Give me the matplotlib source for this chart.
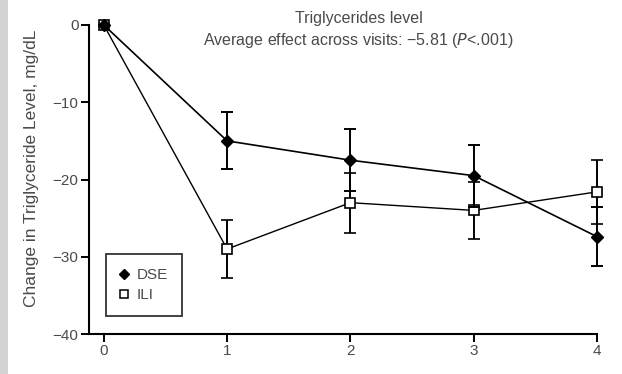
import matplotlib
matplotlib.use("Agg")
import matplotlib.pyplot as plt
from matplotlib.lines import Line2D

# Data: change in triglyceride level (mg/dL) by visit
visits = [0, 1, 2, 3, 4]
dse_mean = [0.0, -15.0, -17.5, -19.5, -27.4]
dse_err = [0.0, 3.7, 4.0, 4.0, 3.8]
ili_mean = [0.0, -29.0, -23.0, -24.0, -21.6]
ili_err = [0.0, 3.7, 3.9, 3.7, 4.1]
yticks = [0, -10, -20, -30, -40]

plt.rcParams["font.family"] = ["Liberation Sans", "DejaVu Sans"]
plt.rcParams["axes.unicode_minus"] = True

W, H = 622, 374
fig = plt.figure(figsize=(W / 100, H / 100), dpi=100)
fig.patch.set_facecolor("white")

# light gray strip on the left edge
fig.patches.append(plt.Rectangle((0, 0), 8 / W, 1, transform=fig.transFigure,
                                 facecolor="#d2d2d2", edgecolor="none"))

ax = fig.add_axes([89 / W, 1 - 334 / H, (597 - 89) / W, (334 - 25) / H])
ax.set_xlim(-0.12, 4.0)
ax.set_ylim(-40, 0)

txt = "#4a4a4a"
ax.errorbar(visits, ili_mean, yerr=ili_err, color="black", lw=1.0,
            marker="s", markersize=7, markerfacecolor="white",
            markeredgewidth=1.2, ecolor="black", elinewidth=1.4,
            capsize=4, capthick=1.4, clip_on=False, zorder=3)
ax.errorbar(visits, dse_mean, yerr=dse_err, color="black", lw=1.2,
            marker="D", markersize=6, markerfacecolor="black",
            ecolor="black", elinewidth=1.4, capsize=4, capthick=1.4,
            clip_on=False, zorder=4)

for s in ["top", "right"]:
    ax.spines[s].set_visible(False)
for s in ["left", "bottom"]:
    ax.spines[s].set_linewidth(1.5)

ax.set_xticks(visits)
ax.set_yticks(yticks)
ax.set_yticklabels([str(v).replace("-", "\u2212") for v in yticks])
ax.tick_params(axis="both", direction="out", length=6, width=1.4,
               labelsize=11, labelcolor=txt, pad=1.5)

fig.text(32 / W, 1 - 168 / H, "Change in Triglyceride Level, mg/dL",
         rotation=90, ha="center", va="center", fontsize=12.5, color=txt)

fig.text(359 / W, 1 - 18 / H, "Triglycerides level",
         ha="center", va="center", fontsize=11.5, color=txt)
fig.text(358 / W, 1 - 41 / H,
         "Average effect across visits: \u22125.81 ($\\it{P}$<.001)",
         ha="center", va="center", fontsize=11.5, color=txt)

handles = [
    Line2D([], [], linestyle="none", marker="D", markersize=5,
           markerfacecolor="black", markeredgecolor="black"),
    Line2D([], [], linestyle="none", marker="s", markersize=6,
           markerfacecolor="white", markeredgecolor="black",
           markeredgewidth=1.1),
]
leg = ax.legend(handles, ["DSE", "ILI"], loc="lower left",
                bbox_to_anchor=(106 / W, 1 - 316 / H),
                bbox_transform=fig.transFigure, borderaxespad=0,
                fancybox=False, frameon=True, fontsize=11,
                handlelength=0.6, handletextpad=0.5, borderpad=0.9,
                labelspacing=0.4, numpoints=1)
leg.get_frame().set_edgecolor("black")
leg.get_frame().set_linewidth(1.3)
for t in leg.get_texts():
    t.set_color(txt)

fig.savefig("out.png", dpi=100)
